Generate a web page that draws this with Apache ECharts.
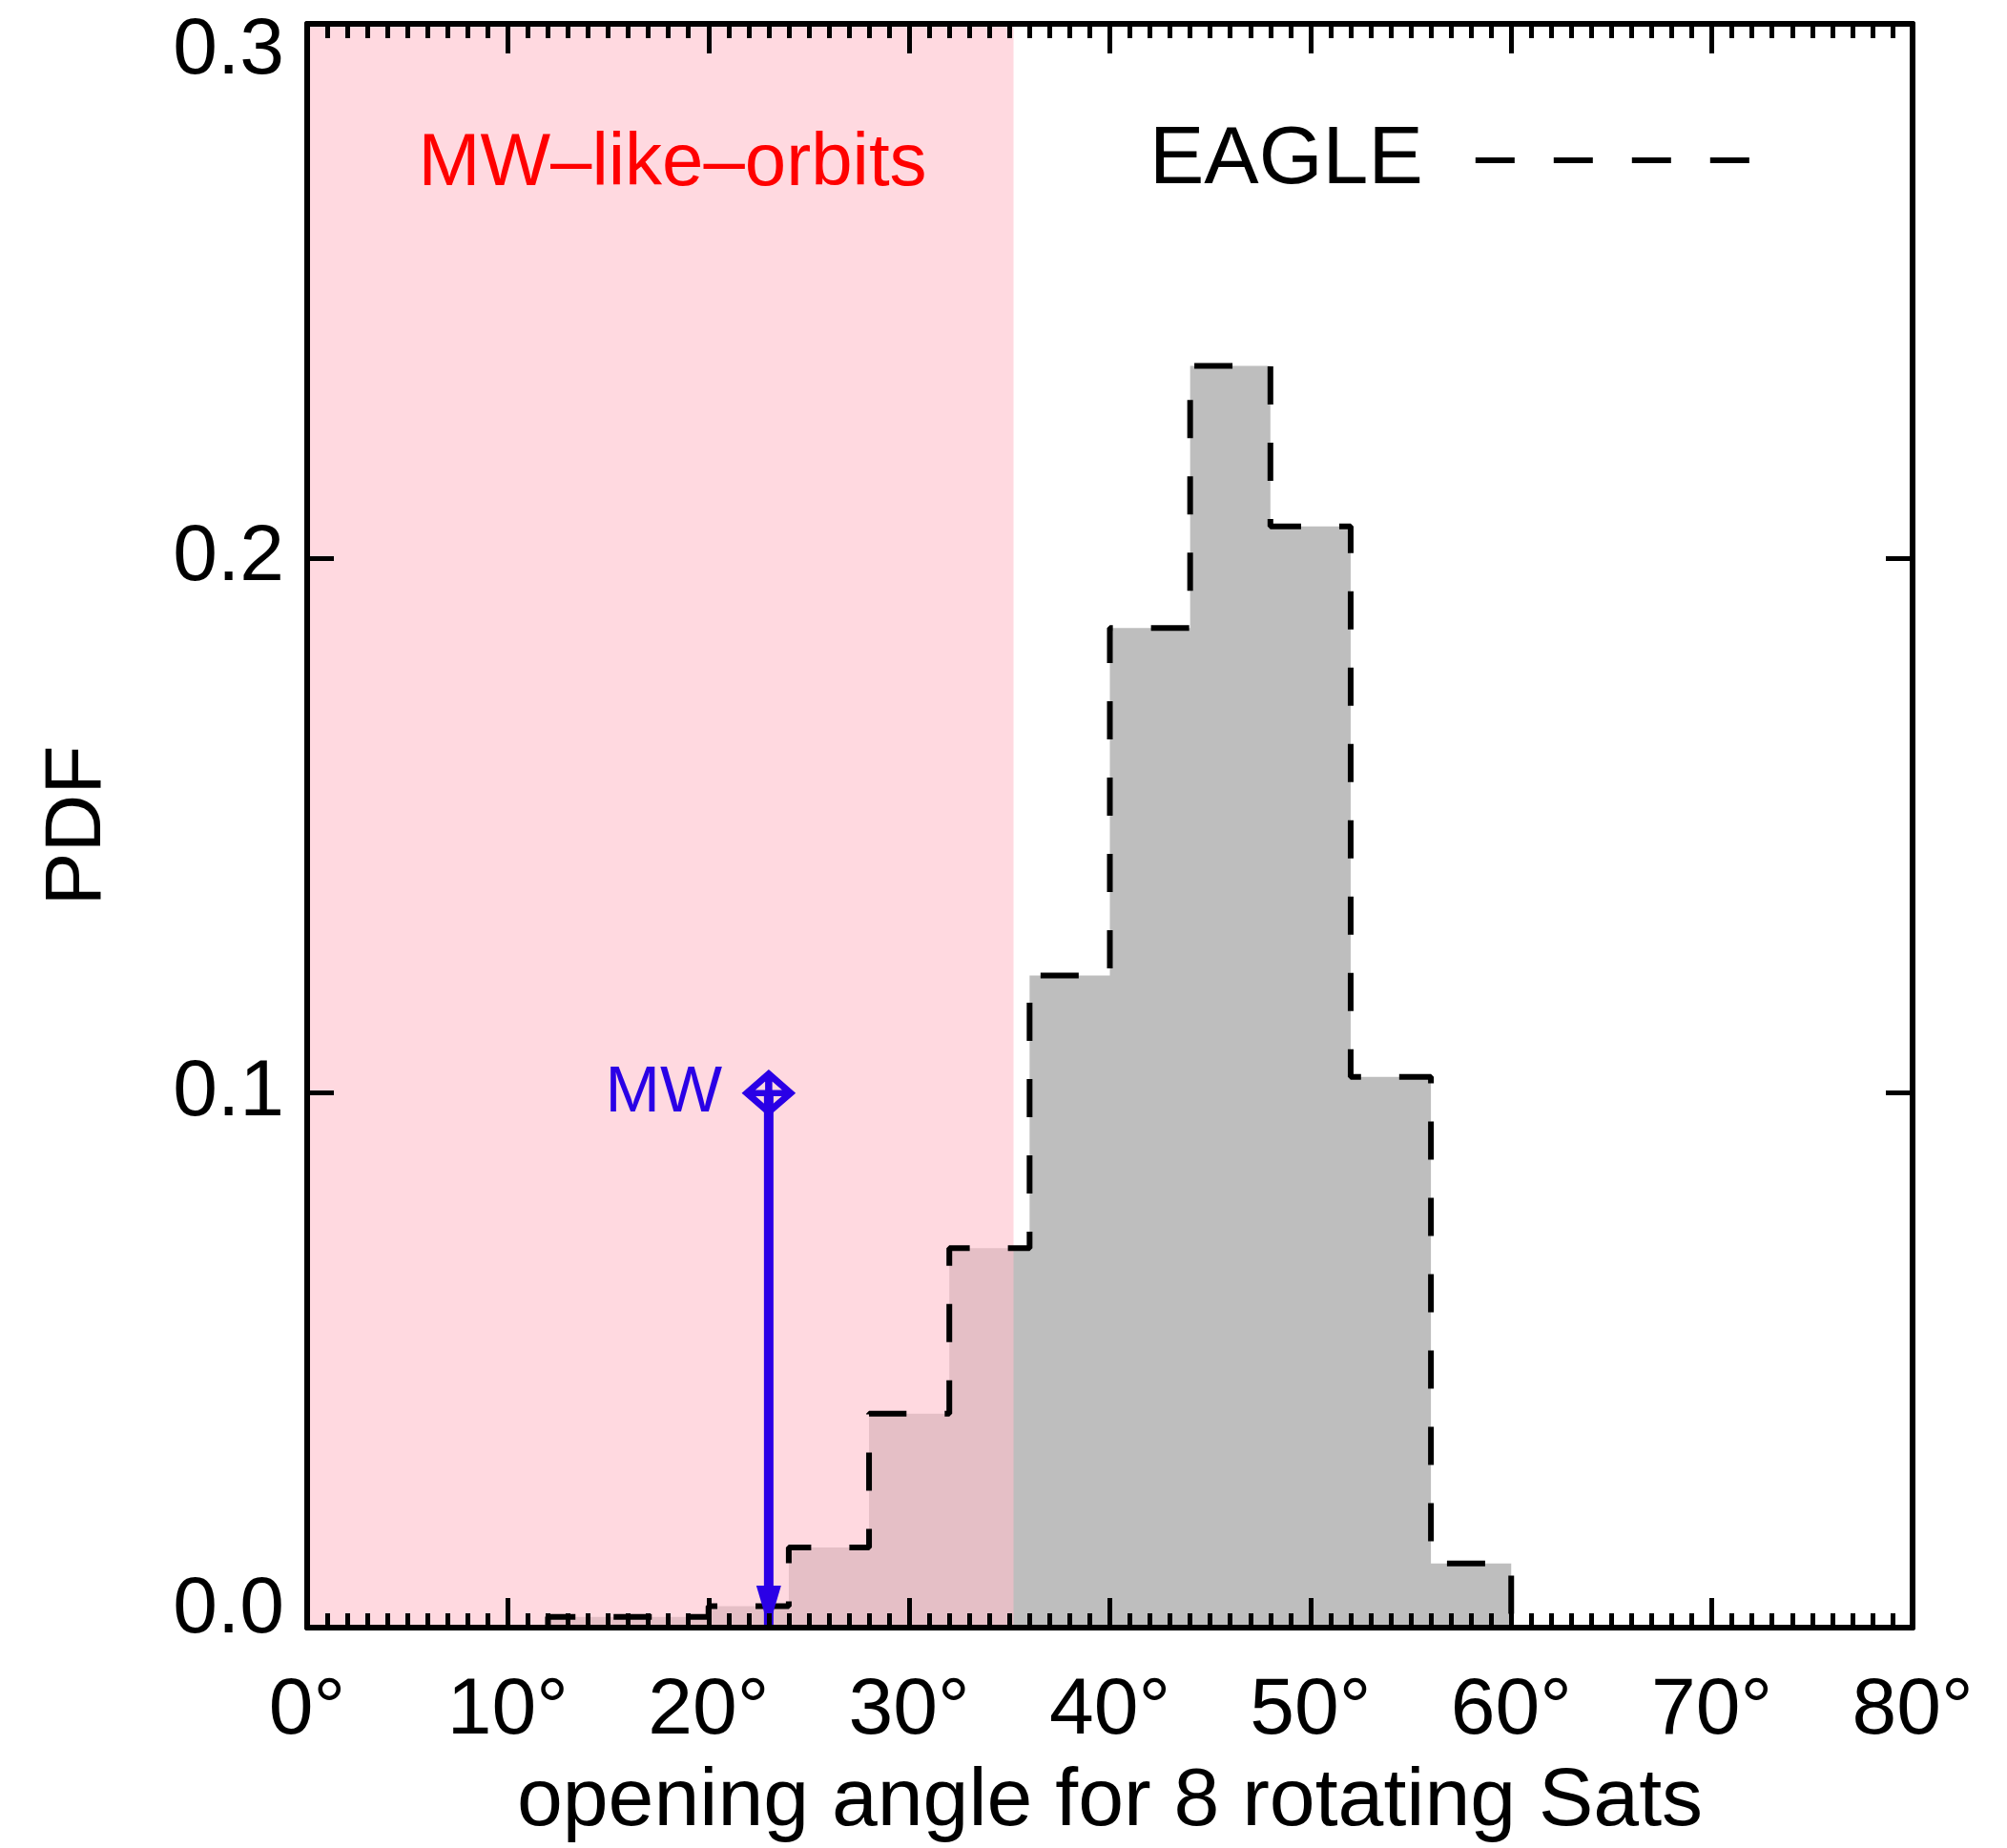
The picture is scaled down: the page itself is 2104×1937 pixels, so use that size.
<!DOCTYPE html>
<html>
<head>
<meta charset="utf-8">
<script src="https://cdn.jsdelivr.net/npm/echarts@6/dist/echarts.min.js"></script>
<style>
  html, body { margin: 0; padding: 0; background: #fff; }
  #chart { width: 2104px; height: 1937px; }
</style>
</head>
<body>
<div id="chart"></div>
<script>
// histogram of the opening angle (4 degree bins), EAGLE
const binStarts = [12, 16, 20, 24, 28, 32, 36, 40, 44, 48, 52, 56]
const binEnd = 60
const pdfValues = [0.002, 0.002, 0.004, 0.015, 0.040, 0.071, 0.122, 0.187, 0.236, 0.206, 0.103, 0.012]

// MW-like-orbits band and the MW value
const mwLikeRange = [0, 35.2]
const mwAngle = 23
const mwPdf = 0.1

const xTicks = [0, 10, 20, 30, 40, 50, 60, 70, 80]
const yTicks = [0.0, 0.1, 0.2, 0.3]

const font = '"Liberation Sans", Arial, Helvetica, sans-serif'
const blue = '#2a00e6'

// step outline points: [start, value] per bin, closed down to 0 at the end
const stepData = [[binStarts[0], 0]]
binStarts.forEach((x, i) => stepData.push([x, pdfValues[i]]))
stepData.push([binEnd, pdfValues[pdfValues.length - 1]])
stepData.push([binEnd, 0])

const myChart = echarts.init(document.getElementById('chart'))

const axisBase = {
  type: 'value',
  z: 10,
  axisLine: { show: true, onZero: false, lineStyle: { color: '#000', width: 6 } },
  splitLine: { show: false }
}

const xAxisCommon = Object.assign({}, axisBase, {
  min: xTicks[0],
  max: xTicks[xTicks.length - 1],
  interval: 10,
  axisTick: { show: true, inside: true, length: 31, lineStyle: { color: '#000', width: 5 } },
  minorTick: { show: true, splitNumber: 10, length: 15, lineStyle: { color: '#000', width: 5 } }
})

const yAxisCommon = Object.assign({}, axisBase, {
  min: yTicks[0],
  max: yTicks[yTicks.length - 1],
  interval: 0.1,
  axisTick: { show: true, inside: true, length: 28, lineStyle: { color: '#000', width: 5 } }
})

const option = {
  backgroundColor: '#fff',
  animation: false,
  textStyle: { fontFamily: font },
  grid: { left: 322, right: 99, top: 25, bottom: 223, containLabel: false },
  legend: {
    data: ['EAGLE'],
    selectedMode: false,
    left: 1200,
    top: 120,
    align: 'right',
    // four thick dashes, like the IDL legend
    icon: 'path://M0,0h41v6H0z M82,0h41v6H82z M164,0h41v6h-41z M246,0h41v6h-41z',
    itemWidth: 287,
    itemHeight: 6,
    itemStyle: { color: '#000', borderWidth: 0 },
    textStyle: { fontSize: 86, color: '#000', fontFamily: font, padding: [0, 50, 0, 0] }
  },
  xAxis: [
    Object.assign({}, xAxisCommon, {
      position: 'bottom',
      name: 'opening angle for 8 rotating Sats',
      nameLocation: 'middle',
      nameGap: 140,
      nameTextStyle: { fontSize: 86, color: '#000', fontFamily: font },
      axisLabel: {
        fontSize: 84, color: '#000', margin: 46, fontFamily: font,
        formatter: v => v + '°'
      }
    }),
    Object.assign({}, xAxisCommon, { position: 'top', axisLabel: { show: false } })
  ],
  yAxis: [
    Object.assign({}, yAxisCommon, {
      position: 'left',
      name: 'PDF',
      nameLocation: 'middle',
      nameGap: 198,
      nameTextStyle: { fontSize: 84, color: '#000', fontFamily: font },
      axisLabel: {
        fontSize: 84, color: '#000', margin: 24, fontFamily: font,
        formatter: v => {
          if (v === 0) return '{lo|0.0}'
          if (Math.abs(v - 0.3) < 1e-9) return '{hi|0.3}'
          return v.toFixed(1)
        },
        rich: {
          lo: { fontSize: 84, color: '#000', fontFamily: font, padding: [0, 0, 36, 0] },
          hi: { fontSize: 84, color: '#000', fontFamily: font, padding: [58, 0, 0, 0] }
        }
      }
    }),
    Object.assign({}, yAxisCommon, { position: 'right', axisLabel: { show: false } })
  ],
  graphic: [
    {
      type: 'text',
      x: 705,
      y: 172,
      z: 20,
      style: {
        text: 'MW–like–orbits',
        fill: '#ff0000',
        fontSize: 78,
        fontFamily: font,
        align: 'center',
        verticalAlign: 'middle'
      }
    }
  ],
  series: [
    {
      // grey fill of the histogram
      type: 'line',
      step: 'end',
      data: stepData,
      symbol: 'none',
      lineStyle: { width: 0, opacity: 0 },
      areaStyle: { color: '#bebebe', opacity: 1 },
      z: 1,
      silent: true
    },
    {
      // translucent pink band
      type: 'custom',
      data: [mwLikeRange],
      z: 2,
      silent: true,
      renderItem: (params, api) => {
        const p0 = api.coord([api.value(0), yTicks[yTicks.length - 1]])
        const p1 = api.coord([api.value(1), yTicks[0]])
        return {
          type: 'rect',
          shape: { x: p0[0], y: p0[1], width: p1[0] - p0[0], height: p1[1] - p0[1] },
          style: { fill: 'rgba(255,192,203,0.6)' }
        }
      }
    },
    {
      name: 'EAGLE',
      type: 'line',
      step: 'end',
      data: stepData,
      symbol: 'none',
      lineStyle: { color: '#000', width: 6, type: [40, 40] },
      itemStyle: { color: '#000' },
      z: 3,
      silent: true
    },
    {
      // MW arrow shaft
      type: 'line',
      data: [[mwAngle, mwPdf], [mwAngle, 0]],
      symbol: 'none',
      lineStyle: { color: blue, width: 10 },
      z: 4,
      silent: true
    },
    {
      // arrow head
      type: 'scatter',
      data: [[mwAngle, 0]],
      symbol: 'triangle',
      symbolRotate: 180,
      symbolSize: [26, 44],
      symbolOffset: [0, '-50%'],
      itemStyle: { color: blue, opacity: 1 },
      z: 5,
      silent: true
    },
    {
      // MW marker: diamond with a cross
      type: 'scatter',
      data: [[mwAngle, mwPdf]],
      symbol: 'path://M0,-1L1,0L0,1L-1,0Z M0,-1L0,1 M-1,0L1,0',
      symbolSize: [46, 40],
      itemStyle: { color: 'none', borderColor: blue, borderWidth: 7, opacity: 1 },
      label: {
        show: true,
        position: 'left',
        distance: 22,
        formatter: 'MW',
        fontSize: 69,
        color: blue,
        fontFamily: font
      },
      z: 5,
      silent: true
    }
  ]
}

myChart.setOption(option)
</script>
</body>
</html>
